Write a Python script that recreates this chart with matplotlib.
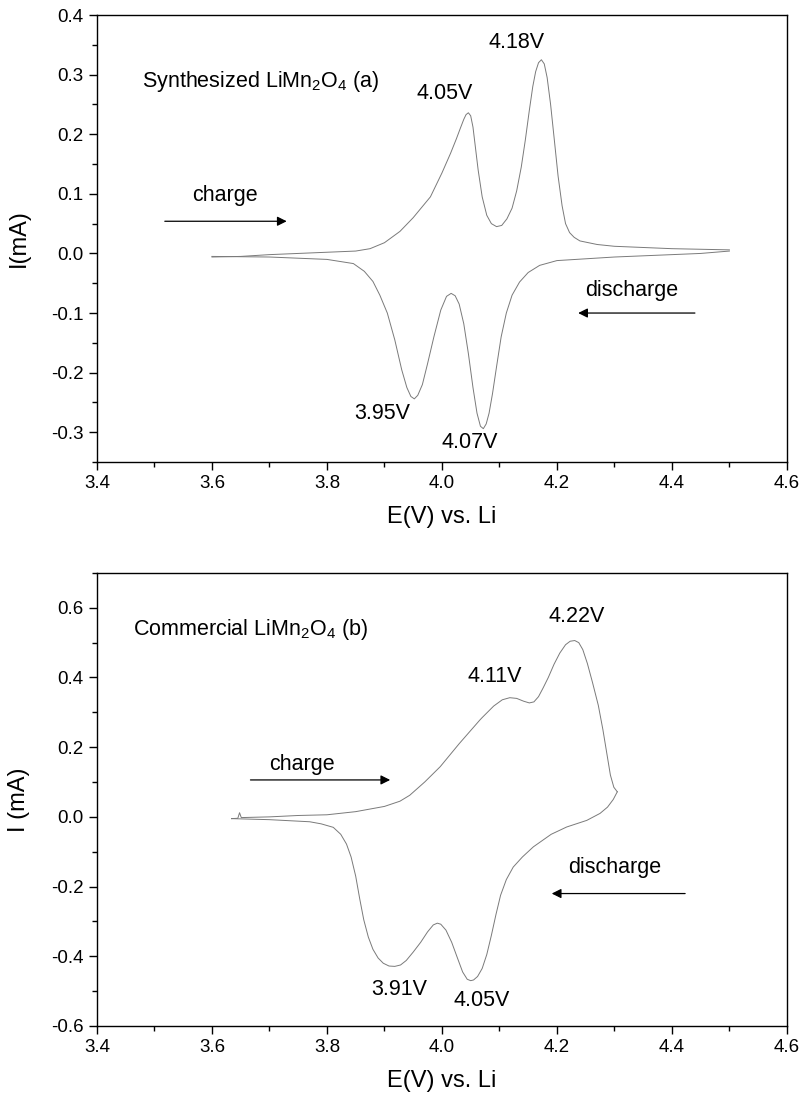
import matplotlib
import matplotlib.pyplot as plt
from matplotlib.ticker import MultipleLocator, FormatStrFormatter

matplotlib.use('Agg')

plt.rcParams['font.family'] = ['Liberation Sans', 'DejaVu Sans']
plt.rcParams['mathtext.default'] = 'regular'
plt.rcParams['axes.unicode_minus'] = False

# (a) synthesized LiMn2O4 -- anodic (charge) sweep
a_charge_E = [3.60, 3.65, 3.70, 3.75, 3.80, 3.85, 3.875, 3.90, 3.927, 3.95, 3.98,
              4.00, 4.015, 4.025, 4.032, 4.038, 4.042, 4.046, 4.05, 4.054, 4.058,
              4.063, 4.07, 4.078, 4.086, 4.095, 4.104, 4.113, 4.122, 4.13, 4.138,
              4.145, 4.152, 4.158, 4.163, 4.168, 4.173, 4.178, 4.183, 4.189, 4.195,
              4.202, 4.209, 4.215, 4.222, 4.23, 4.24, 4.27, 4.30, 4.40, 4.50]
a_charge_I = [-0.006, -0.005, -0.002, 0.0, 0.002, 0.004, 0.008, 0.018, 0.037, 0.06, 0.095,
              0.135, 0.168, 0.192, 0.21, 0.225, 0.233, 0.236, 0.231, 0.212, 0.18,
              0.14, 0.095, 0.064, 0.05, 0.045, 0.047, 0.058, 0.076, 0.105, 0.145,
              0.19, 0.24, 0.28, 0.305, 0.32, 0.325, 0.318, 0.295, 0.25, 0.195,
              0.13, 0.08, 0.05, 0.035, 0.027, 0.021, 0.015, 0.012, 0.008, 0.006]
# (a) cathodic (discharge) sweep
a_dis_E = [4.50, 4.45, 4.40, 4.30, 4.25, 4.20, 4.17, 4.15, 4.135, 4.122, 4.112, 4.103,
           4.095, 4.088, 4.082, 4.077, 4.072, 4.067, 4.061, 4.054, 4.046, 4.038, 4.03,
           4.023, 4.016, 4.008, 3.998, 3.986, 3.975, 3.966, 3.958, 3.952, 3.946, 3.939,
           3.93, 3.918, 3.905, 3.892, 3.88, 3.865, 3.846, 3.80, 3.75, 3.70, 3.60]
a_dis_I = [0.004, 0.0, -0.002, -0.006, -0.009, -0.012, -0.02, -0.032, -0.048, -0.07,
           -0.1, -0.14, -0.19, -0.235, -0.268, -0.286, -0.294, -0.29, -0.268, -0.225,
           -0.168, -0.118, -0.085, -0.071, -0.067, -0.072, -0.095, -0.14, -0.185,
           -0.22, -0.238, -0.244, -0.24, -0.225, -0.195, -0.145, -0.1, -0.07, -0.047,
           -0.03, -0.017, -0.01, -0.008, -0.006, -0.005]

# (b) commercial LiMn2O4 -- charge sweep
b_charge_E = [3.634, 3.645, 3.648, 3.651, 3.70, 3.75, 3.80, 3.85, 3.90, 3.927, 3.944,
              3.97, 3.997, 4.03, 4.066, 4.07, 4.09, 4.105, 4.118, 4.13, 4.142, 4.152,
              4.16, 4.168, 4.176, 4.185, 4.195, 4.205, 4.215, 4.223, 4.231, 4.238,
              4.245, 4.253, 4.262, 4.272, 4.28, 4.287, 4.293, 4.299, 4.305]
b_charge_I = [-0.005, -0.004, 0.012, -0.002, 0.0, 0.004, 0.006, 0.015, 0.03, 0.045, 0.062,
              0.1, 0.144, 0.21, 0.278, 0.285, 0.318, 0.336, 0.342, 0.34, 0.332, 0.327,
              0.33, 0.345, 0.37, 0.4, 0.438, 0.47, 0.494, 0.504, 0.506, 0.5,
              0.48, 0.44, 0.385, 0.32, 0.25, 0.18, 0.12, 0.085, 0.072]
# (b) discharge sweep
b_dis_E = [4.305, 4.298, 4.288, 4.275, 4.252, 4.217, 4.19, 4.159, 4.14, 4.124, 4.112,
           4.102, 4.094, 4.086, 4.078, 4.07, 4.062, 4.055, 4.05, 4.044, 4.036, 4.027,
           4.017, 4.007, 3.998, 3.992, 3.985, 3.975, 3.963, 3.95, 3.938, 3.928, 3.918,
           3.908, 3.898, 3.889, 3.88, 3.872, 3.864, 3.857, 3.85, 3.842, 3.834, 3.824,
           3.811, 3.79, 3.77, 3.70, 3.634]
b_dis_I = [0.072, 0.05, 0.028, 0.01, -0.01, -0.029, -0.05, -0.086, -0.115, -0.144, -0.18,
           -0.225, -0.28, -0.34, -0.395, -0.435, -0.458, -0.468, -0.47, -0.466, -0.445,
           -0.405, -0.36, -0.325, -0.308, -0.305, -0.31, -0.33, -0.36, -0.388, -0.412,
           -0.425, -0.429, -0.428, -0.42, -0.405, -0.38, -0.345, -0.295, -0.235, -0.17,
           -0.115, -0.078, -0.05, -0.03, -0.02, -0.014, -0.008, -0.005]

a_peaks = [('4.05V', 4.005, 0.269), ('4.18V', 4.13, 0.354),
           ('3.95V', 3.897, -0.269), ('4.07V', 4.049, -0.318)]
b_peaks = [('4.11V', 4.092, 0.403), ('4.22V', 4.235, 0.575),
           ('3.91V', 3.925, -0.494), ('4.05V', 4.069, -0.527)]

TXT = 15.5
CURVE = dict(color='#7a7a7a', lw=0.7)


def style_axes(ax, ymin, ymax, ymajor, yminor, ylabel):
    ax.set_xlim(3.4, 4.6)
    ax.set_ylim(ymin, ymax)
    ax.xaxis.set_major_locator(MultipleLocator(0.2))
    ax.xaxis.set_minor_locator(MultipleLocator(0.1))
    ax.yaxis.set_major_locator(MultipleLocator(ymajor))
    ax.yaxis.set_minor_locator(MultipleLocator(yminor))
    ax.xaxis.set_major_formatter(FormatStrFormatter('%.1f'))
    ax.yaxis.set_major_formatter(FormatStrFormatter('%.1f'))
    ax.tick_params(which='both', direction='out', top=False, right=False,
                   labelsize=13.5, width=1)
    ax.tick_params(which='major', length=6)
    ax.tick_params(which='minor', length=3.5)
    for s in ax.spines.values():
        s.set_linewidth(1)
    ax.set_xlabel('E(V) vs. Li', fontsize=17, labelpad=10)
    ax.set_ylabel(ylabel, fontsize=17)
    ax.yaxis.set_label_coords(-0.097, 0.5)


def arrow(ax, x0, x1, y):
    ax.annotate('', xy=(x1, y), xytext=(x0, y),
                arrowprops=dict(arrowstyle='-|>', color='black', lw=0.9,
                                mutation_scale=14, shrinkA=0, shrinkB=0))


fig = plt.figure(figsize=(8.06, 10.98), dpi=100)
ax1 = fig.add_axes([0.1203, 0.5792, 0.856, 0.4071])
ax2 = fig.add_axes([0.1203, 0.0656, 0.856, 0.4126])

# top panel
ax1.plot(a_charge_E, a_charge_I, **CURVE)
ax1.plot(a_dis_E, a_dis_I, **CURVE)
style_axes(ax1, -0.35, 0.4, 0.1, 0.05, 'I(mA)')
ax1.text(3.478, 0.289, 'Synthesized LiMn$_2$O$_4$ (a)', fontsize=TXT, va='center')
for lab, x, y in a_peaks:
    ax1.text(x, y, lab, fontsize=TXT, ha='center', va='center')
ax1.text(3.623, 0.098, 'charge', fontsize=TXT, ha='center', va='center')
arrow(ax1, 3.518, 3.730, 0.054)
ax1.text(4.33, -0.062, 'discharge', fontsize=TXT, ha='center', va='center')
arrow(ax1, 4.44, 4.237, -0.1)

# bottom panel
ax2.plot(b_charge_E, b_charge_I, **CURVE)
ax2.plot(b_dis_E, b_dis_I, **CURVE)
style_axes(ax2, -0.6, 0.7, 0.2, 0.1, 'I (mA)')
ax2.text(3.463, 0.537, 'Commercial LiMn$_2$O$_4$ (b)', fontsize=TXT, va='center')
for lab, x, y in b_peaks:
    ax2.text(x, y, lab, fontsize=TXT, ha='center', va='center')
ax2.text(3.756, 0.149, 'charge', fontsize=TXT, ha='center', va='center')
arrow(ax2, 3.667, 3.910, 0.106)
ax2.text(4.30, -0.144, 'discharge', fontsize=TXT, ha='center', va='center')
arrow(ax2, 4.423, 4.191, -0.22)

fig.savefig('out.png', dpi=100)
plt.close(fig)
